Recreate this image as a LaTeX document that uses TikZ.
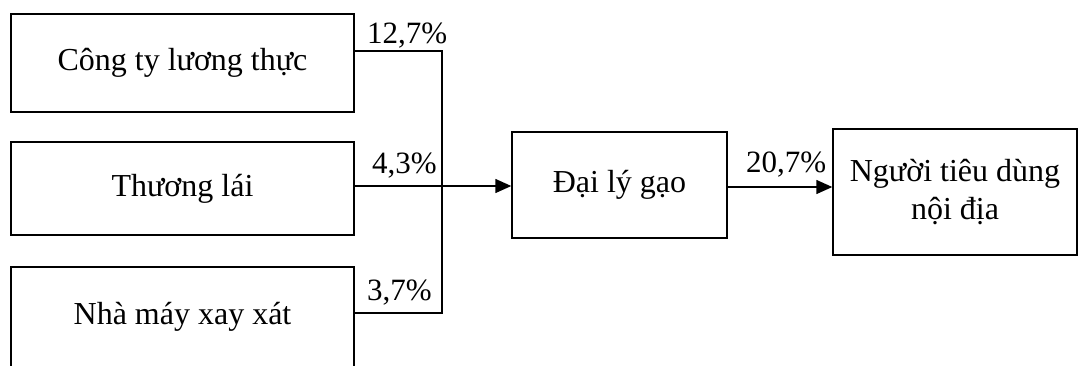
\documentclass[tikz,border=0pt]{standalone}
\usepackage{fontspec}
\setmainfont{Liberation Serif}
\usetikzlibrary{arrows.meta}
\begin{document}
\begin{tikzpicture}[x=1pt,y=-1pt,
  box/.style={draw,line width=1.4pt,inner sep=0pt,align=center,
    font=\fontsize{32}{38}\selectfont},
  conn/.style={line width=1.4pt},
  arr/.style={line width=1.4pt,-{Triangle[length=16pt,width=14pt]}},
  pct/.style={inner sep=0pt,anchor=base west,font=\fontsize{31}{36}\selectfont}]
\useasboundingbox[fill=white] (0,0) rectangle (1079,365);
\node[box,minimum width=343pt,minimum height=98pt] (b1) at (182.5,63) {Công ty lương thực};
\node[box,minimum width=343pt,minimum height=93pt] (b2) at (182.5,188.5) {Thương lái};
\node[box,minimum width=343pt,minimum height=100pt] (b3) at (182.5,317) {Nhà máy xay xát};
\node[box,minimum width=215pt,minimum height=106pt] (dl) at (619.5,185) {Đại lý gạo};
\node[box,minimum width=244pt,minimum height=126pt] (nd) at (955,192) {Người tiêu dùng\\nội địa};
\coordinate (j) at (442,186);
\draw[conn] (b1.east |- 0,51) -| (j);
\draw[conn] (b3.east |- 0,313) -| (j);
\draw[arr] (b2.east |- 0,186) -- (dl.west |- 0,186);
\draw[arr] (dl.east |- 0,187) -- (nd.west |- 0,187);
\node[pct] (l1) at (367,43) {12,7\%};
\node[pct] (l2) at (372,173) {4,3\%};
\node[pct] (l3) at (367,300) {3,7\%};
\node[pct] (l4) at (746,172) {20,7\%};
\end{tikzpicture}
\end{document}
